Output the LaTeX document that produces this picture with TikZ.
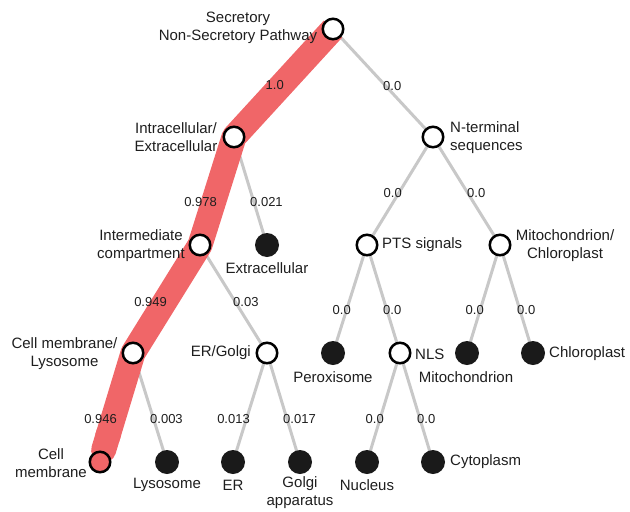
\documentclass[tikz,border=0pt]{standalone}
\usepackage{fontspec}
\setmainfont{Liberation Sans}
\usetikzlibrary{backgrounds,arrows.meta}
\definecolor{bandred}{RGB}{240,102,104}
\definecolor{edgegrey}{RGB}{200,200,200}
\definecolor{txt}{RGB}{30,30,30}
\definecolor{leaf}{RGB}{26,26,26}
\begin{document}
\begin{tikzpicture}[x=1pt,y=-1pt,
  inner/.style={circle,draw=black,line width=2.5pt,fill=white,minimum size=20.5pt,inner sep=0pt},
  leafnode/.style={circle,fill=leaf,minimum size=24pt,inner sep=0pt},
  predleaf/.style={circle,draw=black,line width=2.5pt,fill=bandred,minimum size=20.5pt,inner sep=0pt},
  lbl/.style={inner sep=0pt,text=txt,font=\fontsize{15}{18}\selectfont,align=center},
  elbl/.style={inner sep=0pt,text=txt,font=\fontsize{13}{15}\selectfont},
  link/.style={draw=edgegrey,line width=3pt},
  band/.style={draw=bandred,line width=25pt,line join=round,line cap=butt,-{Round Cap[]}}]
\useasboundingbox (0,0) rectangle (630,512);
% tree nodes
\node[inner] (root) at (333,29) {};
\node[inner] (intra) at (234,137) {};
\node[inner] (nterm) at (433,137) {};
\node[inner] (inter) at (200,245) {};
\node[leafnode] (extra) at (267,245) {};
\node[inner] (pts) at (367,245) {};
\node[inner] (mito) at (500,245) {};
\node[inner] (cml) at (133,353) {};
\node[inner] (erg) at (267,353) {};
\node[leafnode] (perox) at (333,353) {};
\node[inner] (nls) at (400,353) {};
\node[leafnode] (mitoc) at (467,353) {};
\node[leafnode] (chloro) at (533,353) {};
\node[predleaf] (cm) at (100,462) {};
\node[leafnode] (lyso) at (167,462) {};
\node[leafnode] (er) at (233,462) {};
\node[leafnode] (golgi) at (300,462) {};
\node[leafnode] (nucleus) at (367,462) {};
\node[leafnode] (cyto) at (433,462) {};
% connectors
\begin{scope}[on background layer]
\draw[link] (root.center) -- (intra.center);
\draw[link] (root.center) -- (nterm.center);
\draw[link] (intra.center) -- (inter.center);
\draw[link] (intra.center) -- (extra.center);
\draw[link] (nterm.center) -- (pts.center);
\draw[link] (nterm.center) -- (mito.center);
\draw[link] (inter.center) -- (cml.center);
\draw[link] (inter.center) -- (erg.center);
\draw[link] (pts.center) -- (perox.center);
\draw[link] (pts.center) -- (nls.center);
\draw[link] (mito.center) -- (mitoc.center);
\draw[link] (mito.center) -- (chloro.center);
\draw[link] (cml.center) -- (cm.center);
\draw[link] (cml.center) -- (lyso.center);
\draw[link] (erg.center) -- (er.center);
\draw[link] (erg.center) -- (golgi.center);
\draw[link] (nls.center) -- (nucleus.center);
\draw[link] (nls.center) -- (cyto.center);
\draw[band] (root.center) -- (intra.center) -- (inter.center) -- (cml.center) -- (cm.center);
\end{scope}
% node labels
\node[lbl] (t-root) at (238,28) {Secretory\\Non-Secretory Pathway};
\node[lbl] (t-intra) at (176,137) {Intracellular/\\Extracellular};
\node[lbl,anchor=west,align=left] (t-nterm) at (450,138) {N-terminal\\sequences};
\node[lbl] (t-inter) at (141,246) {Intermediate\\compartment};
\node[lbl] (t-extra) at (267,268) {Extracellular};
\node[lbl,anchor=west] (t-pts) at (382,245) {PTS signals};
\node[lbl] (t-mito) at (565,246) {Mitochondrion/\\Chloroplast};
\node[lbl] (t-cml) at (64.5,354) {Cell membrane/\\Lysosome};
\node[lbl,anchor=east] (t-erg) at (251,353) {ER/Golgi};
\node[lbl] (t-perox) at (333,377) {Peroxisome};
\node[lbl,anchor=west] (t-nls) at (415,354) {NLS};
\node[lbl] (t-mitoc) at (466,377) {Mitochondrion};
\node[lbl,anchor=west] (t-chloro) at (549,354) {Chloroplast};
\node[lbl] (t-cm) at (51,463) {Cell\\membrane};
\node[lbl] (t-lyso) at (167,485) {Lysosome};
\node[lbl] (t-er) at (233,485) {ER};
\node[lbl] (t-golgi) at (300,493) {Golgi\\apparatus};
\node[lbl] (t-nucleus) at (367,485) {Nucleus};
\node[lbl,anchor=west] (t-cyto) at (450,462) {Cytoplasm};
% edge labels
\node[elbl,anchor=east] (e1) at (284,85) {1.0};
\node[elbl,anchor=west] (e2) at (383,86) {0.0};
\node[elbl,anchor=east] (e3) at (217,202) {0.978};
\node[elbl,anchor=west] (e4) at (250,202) {0.021};
\node[elbl,anchor=east] (e5) at (402,193) {0.0};
\node[elbl,anchor=west] (e6) at (467,193) {0.0};
\node[elbl,anchor=east] (e7) at (167,302) {0.949};
\node[elbl,anchor=west] (e8) at (233,302) {0.03};
\node[elbl,anchor=east] (e9) at (351,310) {0.0};
\node[elbl,anchor=west] (e10) at (383,310) {0.0};
\node[elbl,anchor=east] (e11) at (484,310) {0.0};
\node[elbl,anchor=west] (e12) at (517,310) {0.0};
\node[elbl,anchor=east] (e13) at (117,419) {0.946};
\node[elbl,anchor=west] (e14) at (150,419) {0.003};
\node[elbl,anchor=east] (e15) at (250,419) {0.013};
\node[elbl,anchor=west] (e16) at (283,419) {0.017};
\node[elbl,anchor=east] (e17) at (384,419) {0.0};
\node[elbl,anchor=west] (e18) at (417,419) {0.0};
\end{tikzpicture}
\end{document}
